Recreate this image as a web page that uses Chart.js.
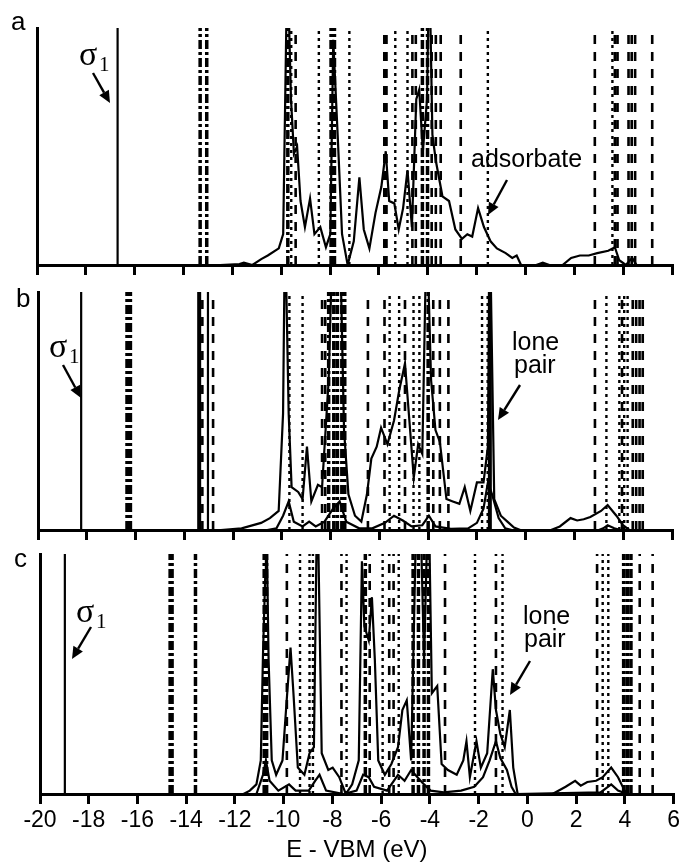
<!DOCTYPE html>
<html>
<head>
<meta charset="utf-8">
<script src="https://cdn.jsdelivr.net/npm/chart.js@4/dist/chart.umd.min.js"></script>
<style>
  html, body { margin: 0; padding: 0; background: #fff; }
  #wrap { position: relative; width: 683px; height: 866px; }
  #wrap canvas { position: absolute; left: 0; top: 0; }
</style>
</head>
<body>
<div id="wrap">
  <canvas id="panel-a" width="683" height="866"></canvas>
  <canvas id="panel-b" width="683" height="866"></canvas>
  <canvas id="panel-c" width="683" height="866"></canvas>
</div>
<script>
// energy axis (eV)
const energyMin = -20;
const energyMax = 6;
const energyStep = 2;

// ---- panel a: DOS curve [E, DOS %] and level lines (eV)
const aAdsorbate = [[-12.5,0],[-11.71,0.4],[-11.53,1],[-11.18,0],[-10.82,2.5],[-10.55,4],[-10.1,7],[-9.92,13],[-9.75,130],[-9.6,70],[-9.48,47],[-9.35,50],[-9.21,27],[-9.03,16],[-8.82,28],[-8.64,13],[-8.4,16],[-8.17,7.5],[-7.99,13],[-7.87,95],[-7.69,55],[-7.51,13],[-7.28,0],[-7.03,10],[-6.8,37],[-6.62,15],[-6.39,7],[-6.14,22],[-5.9,33],[-5.72,48],[-5.58,27],[-5.37,26],[-5.19,15],[-5.01,24],[-4.83,40],[-4.65,16],[-4.47,70],[-4.35,74],[-4.2,48],[-4.03,70],[-3.94,130],[-3.81,55],[-3.67,44],[-3.4,29],[-3.13,27],[-2.87,15],[-2.6,11],[-2.38,13],[-2.18,12],[-1.94,24],[-1.7,16],[-1.43,10],[-1.17,7],[-0.81,5],[-0.54,3],[-0.36,4],[-0.18,0],[0.44,0],[0.71,1],[0.98,0],[1.52,0],[1.87,3],[2.23,4],[2.59,4],[2.94,5],[3.39,6],[3.66,7.5],[3.84,2],[4.11,0],[4.37,3],[4.55,0],[6,0]];
const aSolid = [-16.7];
const aThick = [];
const aHeavy = [-13.32, -13.05, -9.73, -7.96, -7.82, -4.22, -4.01];
const aDash = [-9.41, -5.78, -5.69, -4.63, -4.49, -3.84, -3.67, -3.47, -2.65, 2.84, 3.66, 3.77, 4.22, 4.35, 4.49, 5.19];
const aDot = [-9.59, -8.46, -7.21, -5.33, -4.83, -1.54, 3.56];

// ---- panel b
const bTotal = [[-12.5,0],[-11.65,0.7],[-10.85,3],[-10.49,5],[-10.13,8],[-9.95,49],[-9.87,130],[-9.72,49],[-9.6,18],[-9.33,16],[-9.15,13],[-8.97,35],[-8.79,12],[-8.52,19],[-8.35,18],[-8.08,63],[-7.9,130],[-7.63,130],[-7.45,42],[-7.27,15],[-7.0,6],[-6.74,3.5],[-6.51,15],[-6.33,30],[-6.11,35],[-5.93,43],[-5.67,36],[-5.4,46],[-5.18,59],[-4.95,70],[-4.77,46],[-4.59,22],[-4.41,36],[-4.24,32],[-4.06,130],[-3.88,63],[-3.7,42],[-3.52,37],[-3.25,13],[-2.99,12],[-2.72,11],[-2.5,18],[-2.27,8],[-2.0,20],[-1.73,20],[-1.55,35],[-1.47,130],[-1.29,13],[-1.02,6],[-0.75,3.5],[-0.48,1],[-0.22,0],[1.04,0],[1.4,1.5],[1.84,5],[2.11,4],[2.38,4.5],[2.65,5.5],[3.09,8],[3.36,10.5],[3.72,6],[3.99,2],[4.25,0],[6,0]];
const bAdsorbate = [[-10.6,0],[-10.22,0.7],[-9.95,6],[-9.72,12],[-9.51,3.5],[-9.15,1.5],[-8.88,3.5],[-8.61,1.5],[-8.25,3.5],[-7.9,9],[-7.63,12],[-7.36,3.5],[-6.83,0.7],[-6.29,0.7],[-5.77,3],[-5.4,6],[-5.04,4],[-4.68,1.5],[-4.24,2],[-3.97,6],[-3.7,1.5],[-3.07,0.5],[-2.36,0.7],[-2.0,3],[-1.73,9],[-1.55,20],[-1.38,15],[-1.11,5],[-0.84,0.7],[-0.57,0],[3.0,0],[3.18,0.7],[3.36,2],[3.63,0.7],[3.9,0]];
const bSolid = [-18.23, -13.03];
const bThick = [-13.39, -1.47];
const bHeavy = [-16.35, -16.21, -8.08, -7.87, -7.72, -7.54, -7.42, -4.0];
const bDash = [-13.26, -12.82, -8.35, -8.22, -6.47, -5.79, -4.95, -3.79, -3.52, -3.17, 2.84, 3.95, 4.39, 4.53, 4.67, 4.80];
const bDot = [-9.69, -9.15, -5.58, -5.19, -4.60, -4.36, -1.79, -1.56, 3.31, 3.84, 4.04, 4.18];

// ---- panel c
const cTotal = [[-12.2,0],[-11.65,0],[-11.39,1.4],[-11.12,4],[-10.94,14],[-10.85,58],[-10.76,90],[-10.73,130],[-10.62,56],[-10.49,14],[-10.31,8],[-10.05,14],[-9.87,40],[-9.72,61],[-9.6,42],[-9.42,11],[-9.15,8],[-8.94,17],[-8.76,19.5],[-8.62,130],[-8.44,17],[-8.17,10],[-7.99,11],[-7.72,7],[-7.45,0],[-7.19,4],[-6.92,14],[-6.79,97],[-6.69,70],[-6.51,64],[-6.38,82],[-6.26,56],[-6.12,14],[-5.85,8],[-5.58,12.5],[-5.31,19.5],[-5.13,35],[-4.95,39],[-4.77,14],[-4.6,97],[-4.42,130],[-4.24,56],[-4.06,130],[-3.92,42],[-3.7,45],[-3.52,12.5],[-3.26,10],[-2.9,8],[-2.63,14],[-2.5,22],[-2.36,7],[-2.09,22],[-1.91,11],[-1.65,17],[-1.42,52],[-1.29,35],[-1.11,25],[-0.93,19.5],[-0.72,35],[-0.58,11],[-0.4,0],[1.03,0],[1.57,3],[1.96,5.5],[2.19,3.5],[2.46,5],[2.82,5.5],[3.09,7],[3.44,11],[3.72,7],[3.99,1.4],[4.16,0],[6,0]];
const cAdsorbate = [[-11.12,0],[-10.85,8],[-10.73,14],[-10.58,5.5],[-10.22,1.4],[-9.78,4],[-9.51,1.4],[-8.97,1.4],[-8.71,5.5],[-8.53,8],[-8.26,1.4],[-7.54,0],[-7.01,1.4],[-6.74,8],[-6.51,7],[-6.29,3],[-5.76,1.4],[-5.31,8],[-5.04,5.5],[-4.77,10],[-4.51,7],[-4.24,4],[-3.97,1.4],[-3.43,0.7],[-2.72,1.4],[-2.18,3],[-1.82,7],[-1.55,14],[-1.29,22],[-1.11,15],[-0.84,10],[-0.65,3],[-0.48,0],[3.0,0.7],[3.44,4],[3.72,1.4],[4.1,0]];
const cSolid = [-18.98];
const cThick = [];
const cHeavy = [-14.66, -14.58, -13.62, -10.80, -10.70, -6.65, -4.69, -4.47, -4.24, -4.06, 3.95, 4.10, 4.25];
const cDash = [-9.87, -7.63, -6.47, -5.67, -5.49, -3.38, -1.29, 2.86, 4.61, 5.14];
const cDot = [-9.33, -8.94, -8.80, -7.42, -5.94, -5.28, -2.15, -1.02, 3.09, 3.32];

// ---- styles
const lineStyles = {
  solid: { borderWidth: 2.2, borderDash: [] },
  thick: { borderWidth: 4, borderDash: [] },
  heavy: { borderWidth: 3.5, borderDash: [9, 3, 3, 3] },
  dash: { borderWidth: 2.6, borderDash: [9, 8] },
  dot: { borderWidth: 2.4, borderDash: [3, 4] },
};
const sansFont = '"Liberation Sans", Arial, Helvetica, sans-serif';
const serifFont = '"Liberation Serif", "Times New Roman", serif';

function toPoints(pairs) {
  return pairs.map(([x, y]) => ({ x, y }));
}

// one dataset per line style: bottom-to-top segments separated by gaps
function levelLines(energies, style) {
  const pts = [];
  energies.forEach((e) => {
    pts.push({ x: e, y: 0 }, { x: e, y: 100 }, { x: e, y: null });
  });
  return Object.assign({ data: pts, borderColor: "#000", pointRadius: 0, spanGaps: false, tension: 0 }, lineStyles[style]);
}

function drawArrow(ctx, a) {
  const ang = Math.atan2(a.y2 - a.y1, a.x2 - a.x1);
  const len = 12, half = 5.5;
  const bx = a.x2 - len * Math.cos(ang), by = a.y2 - len * Math.sin(ang);
  ctx.lineWidth = 2.4;
  ctx.beginPath();
  ctx.moveTo(a.x1, a.y1);
  ctx.lineTo(bx, by);
  ctx.stroke();
  ctx.beginPath();
  ctx.moveTo(a.x2, a.y2);
  ctx.lineTo(bx + half * Math.sin(ang), by - half * Math.cos(ang));
  ctx.lineTo(bx - half * Math.sin(ang), by + half * Math.cos(ang));
  ctx.closePath();
  ctx.fill();
}

// texts and arrows (page pixel positions)
const notesPlugin = {
  id: "notes",
  afterDraw(chart, args, opts) {
    const ctx = chart.ctx;
    ctx.save();
    ctx.fillStyle = "#000";
    ctx.strokeStyle = "#000";
    ctx.textAlign = "left";
    ctx.textBaseline = "alphabetic";
    (opts.texts || []).forEach((t) => {
      ctx.font = t.font;
      ctx.fillText(t.text, t.x, t.y);
    });
    (opts.arrows || []).forEach((a) => drawArrow(ctx, a));
    ctx.restore();
  },
};

function makePanel(canvasId, box, curves, lines, notes, showLabels) {
  const datasets = [];
  curves.forEach((c) => {
    datasets.push({ data: toPoints(c), borderColor: "#000", borderWidth: 2.2, pointRadius: 0, tension: 0 });
  });
  Object.keys(lines).forEach((style) => {
    if (lines[style].length) datasets.push(levelLines(lines[style], style));
  });

  const scaleHeight = showLabels ? 866 - 1 - box.bottom : 12;
  return new Chart(document.getElementById(canvasId), {
    type: "line",
    data: { datasets },
    plugins: [notesPlugin],
    options: {
      responsive: false,
      animation: false,
      events: [],
      layout: {
        padding: {
          left: box.left,
          right: 683 - box.right,
          top: box.top,
          bottom: 866 - box.bottom - scaleHeight,
        },
      },
      plugins: {
        legend: { display: false },
        tooltip: { enabled: false },
        notes,
      },
      scales: {
        x: {
          type: "linear",
          min: energyMin,
          max: energyMax,
          border: { display: true, color: "#000", width: 3 },
          grid: { display: true, drawOnChartArea: false, drawTicks: true, tickLength: 10, color: "#000", lineWidth: 3 },
          ticks: {
            display: showLabels,
            stepSize: energyStep,
            color: "#000",
            padding: 3,
            maxRotation: 0,
            font: { family: sansFont, size: 23 },
          },
          title: {
            display: showLabels,
            text: "E - VBM (eV)",
            color: "#000",
            padding: 0,
            font: { family: sansFont, size: 24 },
          },
          afterFit: (scale) => { scale.height = scaleHeight; },
        },
        y: {
          min: 0,
          max: 100,
          border: { display: true, color: "#000", width: 3 },
          grid: { display: false },
          ticks: { display: false },
          afterFit: (scale) => { scale.width = 0; },
        },
      },
    },
  });
}

const labelFont = "26px " + sansFont;
const noteFont = "25px " + sansFont;
const sigmaFont = "34px " + serifFont;
const subFont = "21px " + serifFont;

makePanel("panel-a",
  { left: 37, right: 672, top: 28, bottom: 265 },
  [aAdsorbate],
  { solid: aSolid, thick: aThick, heavy: aHeavy, dash: aDash, dot: aDot },
  {
    texts: [
      { text: "a", x: 11, y: 30, font: labelFont },
      { text: "σ", x: 79, y: 65, font: sigmaFont },
      { text: "1", x: 99, y: 71, font: subFont },
      { text: "adsorbate", x: 471, y: 167, font: noteFont },
    ],
    arrows: [
      { x1: 93, y1: 73, x2: 110, y2: 103 },
      { x1: 507, y1: 180, x2: 488, y2: 215 },
    ],
  },
  false);

makePanel("panel-b",
  { left: 38, right: 672, top: 292, bottom: 530 },
  [bTotal, bAdsorbate],
  { solid: bSolid, thick: bThick, heavy: bHeavy, dash: bDash, dot: bDot },
  {
    texts: [
      { text: "b", x: 16, y: 307, font: labelFont },
      { text: "σ", x: 49, y: 357, font: sigmaFont },
      { text: "1", x: 69, y: 363, font: subFont },
      { text: "lone", x: 512, y: 350, font: noteFont },
      { text: "pair", x: 514, y: 373, font: noteFont },
    ],
    arrows: [
      { x1: 63, y1: 365, x2: 81, y2: 398 },
      { x1: 520, y1: 385, x2: 498, y2: 420 },
    ],
  },
  false);

makePanel("panel-c",
  { left: 40, right: 674, top: 554, bottom: 794 },
  [cTotal, cAdsorbate],
  { solid: cSolid, thick: cThick, heavy: cHeavy, dash: cDash, dot: cDot },
  {
    texts: [
      { text: "c", x: 14, y: 567, font: labelFont },
      { text: "σ", x: 76, y: 622, font: sigmaFont },
      { text: "1", x: 96, y: 628, font: subFont },
      { text: "lone", x: 523, y: 624, font: noteFont },
      { text: "pair", x: 524, y: 647, font: noteFont },
    ],
    arrows: [
      { x1: 91, y1: 627, x2: 72, y2: 659 },
      { x1: 530, y1: 661, x2: 510, y2: 695 },
    ],
  },
  true);
</script>
</body>
</html>
